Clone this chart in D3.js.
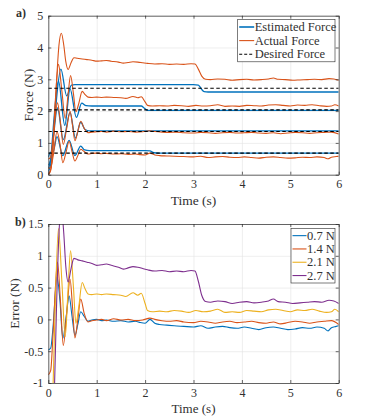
<!DOCTYPE html>
<html>
<head>
<meta charset="utf-8">
<script src="https://cdn.jsdelivr.net/npm/d3@7"></script>
<style>
  body { margin: 0; background: #fff; }
  svg text { font-family: "Liberation Serif", "DejaVu Serif", serif; fill: #303030; }
</style>
</head>
<body>
<div id="chart"></div>
<script>
// ---- data ----
const timeTicks = [0, 1, 2, 3, 4, 5, 6];
const forceTicks = [0, 1, 2, 3, 4, 5];
const errorTicks = [-1, -0.5, 0, 0.5, 1, 1.5];
const errorTickLabels = ["-1", "-0.5", "0", "0.5", "1", "1.5"];

const caseNames = ["0.7 N", "1.4 N", "2.1 N", "2.7 N"];
const desired = [0.68, 1.36, 2.04, 2.72];

// actual force / error, per case
const t07 = [0, 0.05, 0.1, 0.18, 0.24, 0.30, 0.37, 0.43, 0.49, 0.55, 0.61, 0.67, 0.74, 0.82, 0.9, 1.0, 1.1, 1.2, 1.35, 1.5, 1.65, 1.8, 1.9, 2.0, 2.1, 2.2, 2.3, 2.45, 2.6, 2.8, 3.0, 3.15, 3.3, 3.45, 3.6, 3.75, 3.9, 4.05, 4.2, 4.35, 4.5, 4.65, 4.8, 4.95, 5.1, 5.25, 5.4, 5.55, 5.7, 5.78, 5.85, 5.95, 6.0];
const act07 = [0.20, 0.23, 0.58, 1.35, 0.98, 0.38, 0.73, 1.05, 0.73, 0.43, 0.60, 0.80, 0.73, 0.65, 0.67, 0.68, 0.66, 0.67, 0.65, 0.66, 0.64, 0.65, 0.63, 0.62, 0.68, 0.62, 0.60, 0.59, 0.58, 0.57, 0.56, 0.58, 0.54, 0.56, 0.57, 0.55, 0.54, 0.56, 0.54, 0.52, 0.55, 0.56, 0.54, 0.52, 0.53, 0.55, 0.54, 0.56, 0.54, 0.50, 0.55, 0.57, 0.58];
const err07 = [-0.48, -0.45, -0.1, 0.67, 0.3, -0.3, 0.05, 0.37, 0.05, -0.25, -0.08, 0.12, 0.05, -0.03, -0.01, 0.0, -0.02, -0.01, -0.03, -0.02, -0.04, -0.03, -0.05, -0.06, 0.0, -0.06, -0.08, -0.09, -0.1, -0.11, -0.12, -0.1, -0.14, -0.12, -0.11, -0.13, -0.14, -0.12, -0.14, -0.16, -0.13, -0.12, -0.14, -0.16, -0.15, -0.13, -0.14, -0.12, -0.14, -0.18, -0.13, -0.11, -0.1];

const t14 = [0, 0.05, 0.1, 0.19, 0.25, 0.31, 0.38, 0.45, 0.5, 0.55, 0.61, 0.67, 0.74, 0.82, 0.9, 1.0, 1.1, 1.2, 1.35, 1.5, 1.65, 1.8, 1.95, 2.1, 2.2, 2.35, 2.5, 2.65, 2.8, 3.0, 3.15, 3.3, 3.45, 3.6, 3.75, 3.9, 4.05, 4.2, 4.35, 4.5, 4.65, 4.8, 4.95, 5.1, 5.25, 5.4, 5.55, 5.7, 5.85, 6.0];
const act14 = [0.49, 0.56, 1.16, 2.26, 1.66, 0.95, 1.46, 1.99, 1.56, 1.07, 1.36, 1.68, 1.46, 1.32, 1.34, 1.35, 1.36, 1.34, 1.37, 1.35, 1.36, 1.34, 1.35, 1.38, 1.36, 1.34, 1.33, 1.34, 1.32, 1.31, 1.33, 1.32, 1.30, 1.32, 1.33, 1.31, 1.32, 1.33, 1.31, 1.30, 1.32, 1.29, 1.31, 1.33, 1.32, 1.30, 1.32, 1.33, 1.34, 1.28];
const err14 = [-0.87, -0.8, -0.2, 0.9, 0.3, -0.41, 0.1, 0.63, 0.2, -0.29, 0.0, 0.32, 0.1, -0.04, -0.02, -0.01, 0.0, -0.02, 0.01, -0.01, 0.0, -0.02, -0.01, 0.02, 0.0, -0.02, -0.03, -0.02, -0.04, -0.05, -0.03, -0.04, -0.06, -0.04, -0.03, -0.05, -0.04, -0.03, -0.05, -0.06, -0.04, -0.07, -0.05, -0.03, -0.04, -0.06, -0.04, -0.03, -0.02, -0.08];

const t21 = [0, 0.05, 0.1, 0.15, 0.21, 0.28, 0.35, 0.41, 0.46, 0.52, 0.57, 0.63, 0.70, 0.76, 0.82, 0.9, 1.0, 1.1, 1.2, 1.35, 1.5, 1.6, 1.75, 1.85, 1.92, 2.0, 2.05, 2.15, 2.3, 2.45, 2.6, 2.75, 2.9, 3.05, 3.2, 3.35, 3.5, 3.65, 3.8, 3.95, 4.1, 4.25, 4.4, 4.55, 4.7, 4.85, 5.0, 5.15, 5.3, 5.45, 5.6, 5.75, 5.85, 5.92, 6.0];
const act21 = [0, 0.14, 1.04, 2.44, 3.47, 2.64, 1.77, 2.54, 3.12, 2.54, 1.98, 2.24, 2.62, 2.52, 2.44, 2.43, 2.44, 2.43, 2.44, 2.43, 2.42, 2.40, 2.46, 2.42, 2.45, 2.29, 2.18, 2.16, 2.17, 2.16, 2.18, 2.17, 2.15, 2.18, 2.16, 2.17, 2.20, 2.15, 2.16, 2.15, 2.18, 2.17, 2.16, 2.19, 2.20, 2.18, 2.16, 2.19, 2.18, 2.20, 2.17, 2.15, 2.16, 2.20, 2.16];
const err21 = [-2.04, -1.9, -1.0, 0.4, 1.43, 0.6, -0.27, 0.5, 1.08, 0.5, -0.06, 0.2, 0.58, 0.48, 0.4, 0.39, 0.4, 0.39, 0.4, 0.39, 0.38, 0.36, 0.42, 0.38, 0.41, 0.25, 0.14, 0.12, 0.13, 0.12, 0.14, 0.13, 0.11, 0.14, 0.12, 0.13, 0.16, 0.11, 0.12, 0.11, 0.14, 0.13, 0.12, 0.15, 0.16, 0.14, 0.12, 0.15, 0.14, 0.16, 0.13, 0.11, 0.12, 0.16, 0.12];

const t27 = [0, 0.06, 0.12, 0.17, 0.22, 0.27, 0.32, 0.36, 0.41, 0.47, 0.53, 0.6, 0.7, 0.8, 0.9, 1.0, 1.1, 1.2, 1.3, 1.45, 1.55, 1.65, 1.75, 1.85, 1.95, 2.05, 2.2, 2.35, 2.5, 2.65, 2.8, 2.95, 3.03, 3.1, 3.17, 3.25, 3.35, 3.5, 3.65, 3.8, 3.95, 4.1, 4.25, 4.4, 4.55, 4.65, 4.75, 4.9, 5.05, 5.2, 5.35, 5.5, 5.65, 5.8, 5.9, 6.0];
const act27 = [0, 0.22, 1.42, 2.92, 4.07, 4.45, 4.07, 3.57, 3.31, 3.52, 3.68, 3.66, 3.64, 3.62, 3.60, 3.57, 3.58, 3.59, 3.57, 3.54, 3.51, 3.53, 3.55, 3.54, 3.52, 3.50, 3.48, 3.49, 3.47, 3.48, 3.47, 3.49, 3.48, 3.32, 3.10, 3.00, 2.99, 3.01, 3.00, 2.97, 2.99, 3.00, 2.98, 2.99, 3.01, 3.04, 3.00, 2.99, 2.97, 2.98, 2.99, 3.00, 2.99, 3.02, 3.01, 2.97];
const err27 = [-2.72, -2.5, -1.3, 0.2, 1.35, 1.73, 1.35, 0.85, 0.59, 0.8, 0.96, 0.94, 0.92, 0.9, 0.88, 0.85, 0.86, 0.87, 0.85, 0.82, 0.79, 0.81, 0.83, 0.82, 0.8, 0.78, 0.76, 0.77, 0.75, 0.76, 0.75, 0.77, 0.76, 0.6, 0.38, 0.28, 0.27, 0.29, 0.28, 0.25, 0.27, 0.28, 0.26, 0.27, 0.29, 0.32, 0.28, 0.27, 0.25, 0.26, 0.27, 0.28, 0.27, 0.3, 0.29, 0.25];

// estimated force, per case
const te07 = [0, 0.04, 0.1, 0.18, 0.3, 0.43, 0.55, 0.67, 0.75, 0.85, 1.0, 1.5, 2.0, 2.1, 2.18, 2.3, 3.0, 4.0, 5.0, 6.0];
const est07 = [0.55, 0.7, 0.72, 1.2, 0.6, 1.08, 0.6, 0.9, 0.78, 0.76, 0.76, 0.76, 0.76, 0.75, 0.69, 0.68, 0.68, 0.68, 0.68, 0.68];
const te14 = [0, 0.05, 0.1, 0.19, 0.31, 0.45, 0.56, 0.67, 0.76, 0.85, 1.0, 2.0, 3.0, 4.0, 5.0, 6.0];
const est14 = [0.3, 0.45, 1.1, 2.1, 1.1, 1.95, 1.15, 1.65, 1.42, 1.38, 1.38, 1.38, 1.38, 1.38, 1.38, 1.38];
const te21 = [0, 0.05, 0.12, 0.21, 0.34, 0.45, 0.58, 0.69, 0.78, 0.9, 1.0, 1.5, 1.92, 1.98, 2.05, 2.2, 3.0, 4.0, 5.0, 6.0];
const est21 = [0.2, 0.5, 1.8, 2.95, 1.55, 2.7, 1.8, 2.25, 2.17, 2.16, 2.16, 2.16, 2.16, 2.1, 2.02, 2.02, 2.02, 2.02, 2.02, 2.02];
const te27 = [0, 0.06, 0.14, 0.26, 0.38, 0.48, 0.55, 1.0, 2.0, 3.0, 3.1, 3.16, 3.22, 3.3, 4.0, 5.0, 6.0];
const est27 = [0.1, 0.4, 1.9, 3.32, 2.48, 2.82, 2.83, 2.83, 2.83, 2.83, 2.82, 2.7, 2.61, 2.6, 2.6, 2.6, 2.6];

// ---- layout ----
const width = 374, height = 419;
const left = 48.3, right = 338.7;
const colors = ["#0072BD", "#D95319", "#EDB120", "#7E2F8E"];

const zip = (ts, vs) => ts.map((t, i) => [t, vs[i]]);
const actual = [zip(t07, act07), zip(t14, act14), zip(t21, act21), zip(t27, act27)];
const errors = [zip(t07, err07), zip(t14, err14), zip(t21, err21), zip(t27, err27)];
const estimated = [zip(te07, est07), zip(te14, est14), zip(te21, est21), zip(te27, est27)];

const svg = d3.select("#chart").append("svg")
    .attr("width", width)
    .attr("height", height);

const x = d3.scaleLinear([0, 6], [left, right]);

function drawFrame(g, y, yTicks, id) {
    const top = y.range()[1], bottom = y.range()[0];

    // grid
    g.append("g")
        .attr("transform", `translate(0,${bottom})`)
        .call(d3.axisBottom(x).tickValues(timeTicks).tickSize(-(bottom - top)).tickFormat(""))
        .call(a => a.select(".domain").remove())
        .selectAll("line").attr("stroke", "#e3e3e3").attr("stroke-width", 0.6);
    g.append("g")
        .attr("transform", `translate(${left},0)`)
        .call(d3.axisLeft(y).tickValues(yTicks).tickSize(-(right - left)).tickFormat(""))
        .call(a => a.select(".domain").remove())
        .selectAll("line").attr("stroke", "#e3e3e3").attr("stroke-width", 0.6);

    g.append("clipPath").attr("id", id)
        .append("rect")
        .attr("x", left).attr("y", top)
        .attr("width", right - left).attr("height", bottom - top);
}

function drawAxes(g, y, yTicks, yFormat) {
    const top = y.range()[1], bottom = y.range()[0];
    const style = a => {
        a.select(".domain").attr("stroke", "#262626").attr("stroke-width", 0.7);
        a.selectAll("line").attr("stroke", "#262626").attr("stroke-width", 0.7);
        a.selectAll("text").attr("font-size", 12);
    };
    g.append("g").attr("transform", `translate(0,${bottom})`)
        .call(d3.axisBottom(x).tickValues(timeTicks).tickSizeInner(-3).tickSizeOuter(0).tickPadding(5).tickFormat(d3.format("d")))
        .call(style);
    g.append("g").attr("transform", `translate(0,${top})`)
        .call(d3.axisTop(x).tickValues(timeTicks).tickSizeInner(-3).tickSizeOuter(0).tickFormat(""))
        .call(style);
    g.append("g").attr("transform", `translate(${left},0)`)
        .call(d3.axisLeft(y).tickValues(yTicks).tickSizeInner(-3).tickSizeOuter(0).tickPadding(5).tickFormat(yFormat))
        .call(style);
    g.append("g").attr("transform", `translate(${right},0)`)
        .call(d3.axisRight(y).tickValues(yTicks).tickSizeInner(-3).tickSizeOuter(0).tickFormat(""))
        .call(style);
}

function drawLegend(g, x0, y0, w, rowH, sample, entries) {
    g.append("rect")
        .attr("x", x0).attr("y", y0)
        .attr("width", w).attr("height", rowH * entries.length + 1.5)
        .attr("fill", "#fff").attr("stroke", "#262626").attr("stroke-width", 0.6);
    entries.forEach((e, i) => {
        const cy = y0 + rowH * (i + 0.5) + 0.7;
        g.append("line")
            .attr("x1", x0 + 1.5).attr("x2", x0 + 1.5 + sample)
            .attr("y1", cy).attr("y2", cy)
            .attr("stroke", e.color).attr("stroke-width", e.width)
            .attr("stroke-dasharray", e.dash || null);
        g.append("text")
            .attr("x", x0 + 2 + sample).attr("y", cy + 4)
            .attr("font-size", 12.5)
            .text(e.label);
    });
}

// ---- panel a) ----
{
    const y = d3.scaleLinear([0, 5], [174.7, 15.7]);
    const g = svg.append("g");
    drawFrame(g, y, forceTicks, "clip-a");

    const line = d3.line().x(d => x(d[0])).y(d => y(d[1])).curve(d3.curveMonotoneX);
    const plot = g.append("g").attr("clip-path", "url(#clip-a)");

    plot.selectAll(".est").data(estimated).join("path")
        .attr("fill", "none").attr("stroke", colors[0]).attr("stroke-width", 1.3)
        .attr("d", line);
    plot.selectAll(".act").data(actual).join("path")
        .attr("fill", "none").attr("stroke", colors[1]).attr("stroke-width", 1.1)
        .attr("d", line);
    plot.selectAll(".des").data(desired).join("line")
        .attr("x1", x(0)).attr("x2", x(6))
        .attr("y1", d => y(d)).attr("y2", d => y(d))
        .attr("stroke", "#000").attr("stroke-width", 1.1)
        .attr("stroke-dasharray", "3.5,2.5");

    drawAxes(g, y, forceTicks, d3.format("d"));

    drawLegend(g, 237.7, 19.5, 97.3, 13.6, 15, [
        {label: "Estimated Force", color: colors[0], width: 1.6},
        {label: "Actual Force", color: colors[1], width: 1.1},
        {label: "Desired Force", color: "#000", width: 1.1, dash: "3,2"}
    ]);

    g.append("text").attr("x", 193.5).attr("y", 205)
        .attr("text-anchor", "middle").attr("font-size", 13.5).text("Time (s)");
    g.append("text")
        .attr("transform", `translate(33,${(174.7 + 15.7) / 2}) rotate(-90)`)
        .attr("text-anchor", "middle").attr("font-size", 13.5).text("Force (N)");
    g.append("text").attr("x", 16).attr("y", 17)
        .attr("font-size", 12).attr("font-weight", "bold").text("a)");
}

// ---- panel b) ----
{
    const y = d3.scaleLinear([-1, 1.5], [383, 224]);
    const g = svg.append("g");
    const fmt = d => errorTickLabels[errorTicks.indexOf(d)];
    drawFrame(g, y, errorTicks, "clip-b");

    const line = d3.line().x(d => x(d[0])).y(d => y(d[1])).curve(d3.curveMonotoneX);
    const plot = g.append("g").attr("clip-path", "url(#clip-b)");

    plot.selectAll(".err").data(errors).join("path")
        .attr("fill", "none").attr("stroke", (d, i) => colors[i]).attr("stroke-width", 1.1)
        .attr("d", line);

    drawAxes(g, y, errorTicks, fmt);

    drawLegend(g, 291, 228.3, 44, 13.3, 14,
        caseNames.map((n, i) => ({label: n, color: colors[i], width: 1.1})));

    g.append("text").attr("x", 193.5).attr("y", 413)
        .attr("text-anchor", "middle").attr("font-size", 13).text("Time (s)");
    g.append("text")
        .attr("transform", `translate(19,${(383 + 224) / 2}) rotate(-90)`)
        .attr("text-anchor", "middle").attr("font-size", 13.5).text("Error (N)");
    g.append("text").attr("x", 15).attr("y", 226)
        .attr("font-size", 12).attr("font-weight", "bold").text("b)");
}
</script>
</body>
</html>
